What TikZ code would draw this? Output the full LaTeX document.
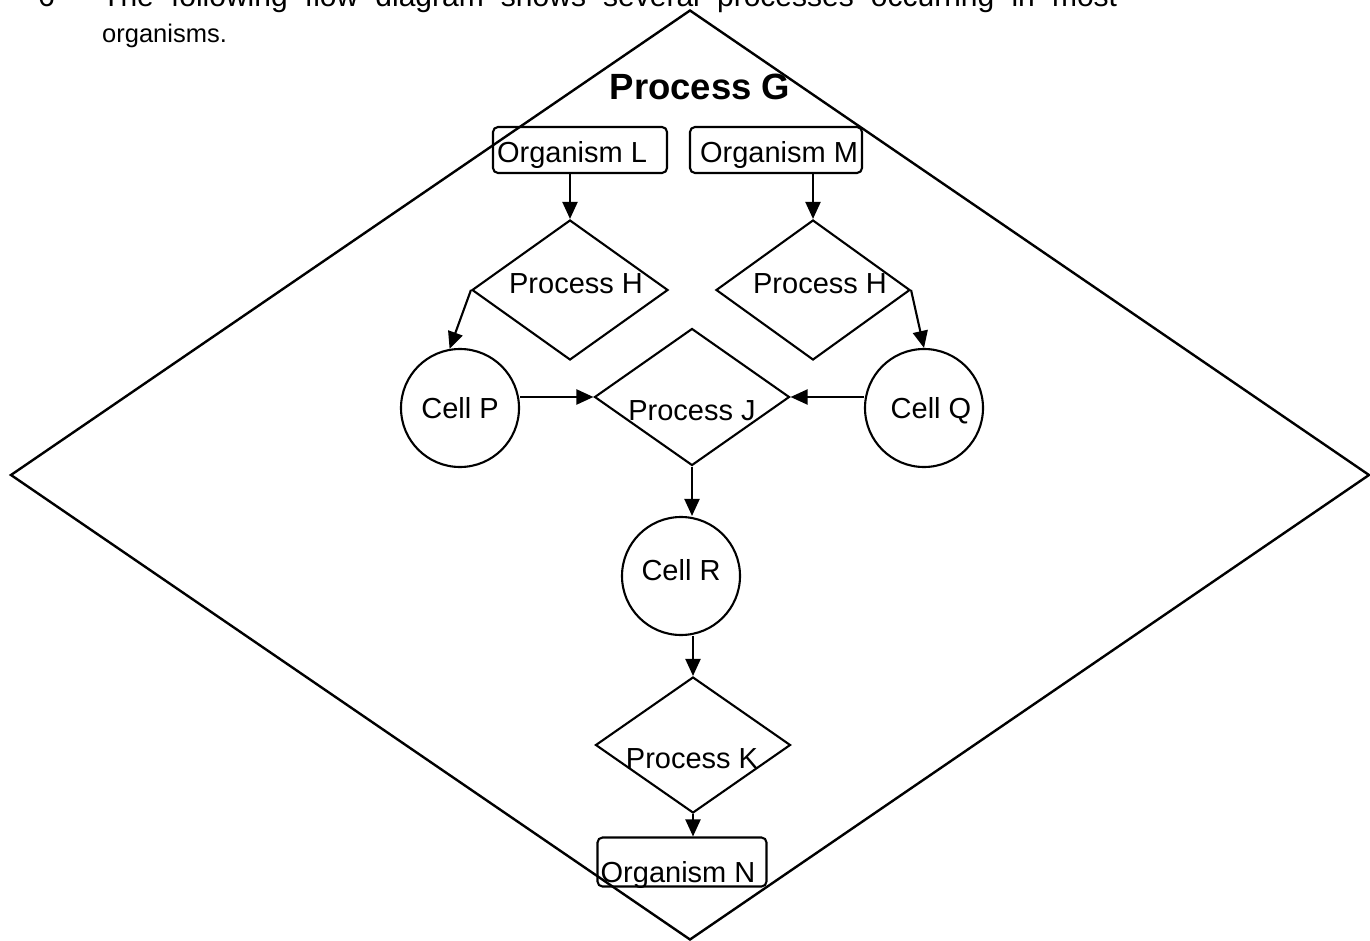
\documentclass[tikz,border=0pt]{standalone}
\usepackage{fontspec}
\setmainfont{Liberation Sans}
\usetikzlibrary{shapes.geometric,arrows.meta,calc}
\tikzset{
  ln/.style={line width=2.1pt},
  arr/.style={ln,-{Triangle[length=17pt,width=15pt]}},
  dia/.style={draw,ln,diamond,inner sep=0pt,minimum width=#1},
  cell/.style={draw,ln,circle,inner sep=0pt,minimum size=118pt},
  orgbox/.style={draw,ln,rounded corners=5pt,inner sep=0pt},
  lbl/.style={anchor=base,inner sep=0pt,font=\fontsize{29}{34}\selectfont},
  head/.style={anchor=base west,inner sep=0pt,font=\fontsize{25.5}{30}\selectfont},
  headtop/.style={anchor=base west,inner sep=0pt,font=\fontsize{30}{34}\selectfont}
}
\begin{document}
\begin{tikzpicture}[x=1pt,y=-1pt]
\useasboundingbox (0,0) rectangle (1370,941);
% header text (top line partly cut off by the page edge, as in the reference)
\node[headtop] (qn) at (38,7) {6};
\node[headtop] (h1) at (102,7) {\makebox[1015pt][s]{The following flow diagram shows several processes occurring in most}};
\node[head] (h2) at (102,43) {organisms.};
% big diamond G
\node[draw,line width=2.4pt,diamond,inner sep=0pt,minimum width=1359pt,minimum height=930pt] (g) at (690,475) {};
\node[anchor=base,inner sep=0pt,font=\fontsize{36.5}{40}\selectfont\bfseries] (gt) at (700,100) {Process G};
% organisms
\node[orgbox,minimum width=174pt,minimum height=46pt] (ol) at (580,150) {};
\node[lbl] (olt) at (572,163) {Organism L};
\node[orgbox,minimum width=172pt,minimum height=46pt] (om) at (776,150) {};
\node[lbl] (omt) at (779,163) {Organism M};
% process H
\node[dia=196pt,minimum height=140pt] (hl) at (570,290) {};
\node[lbl] (hlt) at (576,293) {Process H};
\node[dia=194pt,minimum height=140pt] (hr) at (813,290) {};
\node[lbl] (hrt) at (820,293) {Process H};
% cells P, Q
\node[cell] (cp) at (460,408) {};
\node[lbl] (cpt) at (460,418) {Cell P};
\node[cell] (cq) at (924,408) {};
\node[lbl] (cqt) at (931,418) {Cell Q};
% process J
\node[dia=195pt,minimum height=137pt] (j) at (692,397) {};
\node[lbl] (jt) at (692,420) {Process J};
% cell R
\node[cell] (cr) at (681,576) {};
\node[lbl] (crt) at (681,580) {Cell R};
% process K
\node[dia=195pt,minimum height=136pt] (k) at (693,745) {};
\node[lbl] (kt) at (692,768) {Process K};
% organism N
\node[orgbox,minimum width=169pt,minimum height=49pt] (on) at (682,862) {};
\node[lbl] (ont) at (678,882) {Organism N};
% connectors
\draw[arr] (hl.north |- ol.south) -- (hl.north);
\draw[arr] (hr.north |- om.south) -- (hr.north);
\draw[arr] (hl.west) -- (cp.100);
\draw[arr] (hr.east) -- (cq.north);
\draw[arr] (j.west -| cp.east) -- (j.west);
\draw[arr] (j.east -| cq.west) -- (j.east);
\draw[arr] (j.south) -- (j.south |- cr.north);
\draw[arr] (k.north |- cr.south) -- (k.north);
\draw[arr] (k.south) -- (k.south |- on.north);
\end{tikzpicture}
\end{document}
